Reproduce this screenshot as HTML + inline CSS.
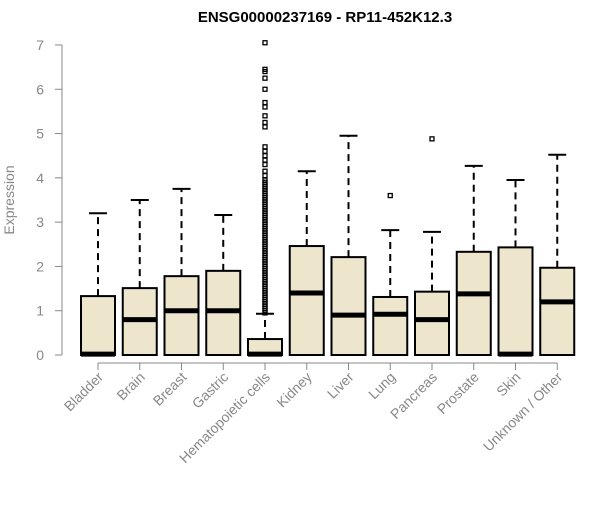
<!DOCTYPE html>
<html><head><meta charset="utf-8"><style>
body{margin:0;background:#fff}
svg{font-family:"Liberation Sans",sans-serif}
</style></head><body>
<svg id="c" width="600" height="500" viewBox="0 0 600 500">
<text x="325" y="22" text-anchor="middle" font-weight="bold" font-size="15">ENSG00000237169 - RP11-452K12.3</text>
<text x="14" y="200" text-anchor="middle" font-size="14" fill="#888" transform="rotate(-90 14 200)">Expression</text>
<g id="ax"></g><g id="plot"></g>
</svg>
<script>
const categories=["Bladder","Brain","Breast","Gastric","Hematopoietic cells","Kidney","Liver","Lung","Pancreas","Prostate","Skin","Unknown / Other"];
const q1=[0,0,0,0,0,0,0,0,0,0,0,0];
const medians=[0.02,0.8,1.0,1.0,0.02,1.4,0.9,0.92,0.8,1.38,0.02,1.2];
const q3=[1.33,1.51,1.78,1.9,0.36,2.46,2.21,1.31,1.43,2.33,2.43,1.97];
const whiskerHi=[3.2,3.5,3.75,3.16,0.93,4.15,4.95,2.82,2.78,4.27,3.95,4.52];
const outlierCat=[7,8];
const outlierVal=[3.6,4.88];
const hematoOutliers=[0.95,1.0,1.05,1.1,1.15,1.2,1.25,1.3,1.35,1.4,1.45,1.5,1.55,1.6,1.65,1.7,1.75,1.8,1.85,1.9,1.95,2.0,2.05,2.1,2.15,2.2,2.25,2.3,2.35,2.4,2.45,2.5,2.55,2.6,2.65,2.7,2.75,2.8,2.85,2.9,2.95,3.0,3.05,3.1,3.15,3.2,3.25,3.3,3.35,3.4,3.45,3.5,3.55,3.6,3.65,3.7,3.75,3.8,3.85,3.9,3.95,4.05,4.15,4.3,4.4,4.5,4.6,4.7,5.15,5.25,5.4,5.6,5.7,6.0,6.25,6.4,6.45,7.05];
const yTicks=[0,1,2,3,4,5,6,7];
const NS="http://www.w3.org/2000/svg";
const y=v=>355-v*44.29;
const x=i=>98+i*41.75;
const ax=document.getElementById('ax'),plot=document.getElementById('plot');
function mk(p,t,a){const e=document.createElementNS(NS,t);for(const k in a)e.setAttribute(k,a[k]);p.appendChild(e);return e;}
let yl=mk(ax,'line',{x1:62,x2:62,y1:y(0),y2:y(7),stroke:'#888'});


yTicks.forEach(t=>{
 let l=mk(ax,'line',{x1:55,x2:62,y1:y(t),y2:y(t),stroke:'#888'});
 
 
 let tx=mk(ax,'text',{x:44,y:y(t)+5,'text-anchor':'end','font-size':14,fill:'#888'});tx.textContent=t;
 
 
});
let xl=mk(ax,'line',{x1:x(0),x2:x(11),y1:363,y2:363,stroke:'#888'});


categories.forEach((c,i)=>{
 const cx=x(i);
 let tk=mk(ax,'line',{x1:cx,x2:cx,y1:363,y2:370,stroke:'#888'});
 
 
 let tx=mk(ax,'text',{x:cx+6,y:378,'text-anchor':'end','font-size':14,fill:'#888',transform:`rotate(-45 ${cx+6} 378)`});tx.textContent=c;
 
 
 const g=mk(plot,'g',{});
 
 
 mk(g,'line',{x1:cx,x2:cx,y1:y(q3[i]),y2:y(whiskerHi[i]),stroke:'#000','stroke-width':2,'stroke-dasharray':'7,5'});
 mk(g,'line',{x1:cx-9,x2:cx+9,y1:y(whiskerHi[i]),y2:y(whiskerHi[i]),stroke:'#000','stroke-width':2});
 mk(g,'rect',{x:cx-17,y:y(q3[i]),width:34,height:y(q1[i])-y(q3[i]),fill:'#ede6cd',stroke:'#000','stroke-width':2});
 mk(g,'line',{x1:cx-17,x2:cx+17,y1:y(medians[i]),y2:y(medians[i]),stroke:'#000','stroke-width':5});
});
function pt(i,v){let r=mk(plot,'rect',{x:x(i)-2,y:y(v)-2,width:4,height:4,fill:'none',stroke:'#000','stroke-width':1.3});
 
 }
outlierCat.forEach((c,k)=>pt(c,outlierVal[k]));
hematoOutliers.forEach(v=>pt(4,v));
</script>
</body></html>
